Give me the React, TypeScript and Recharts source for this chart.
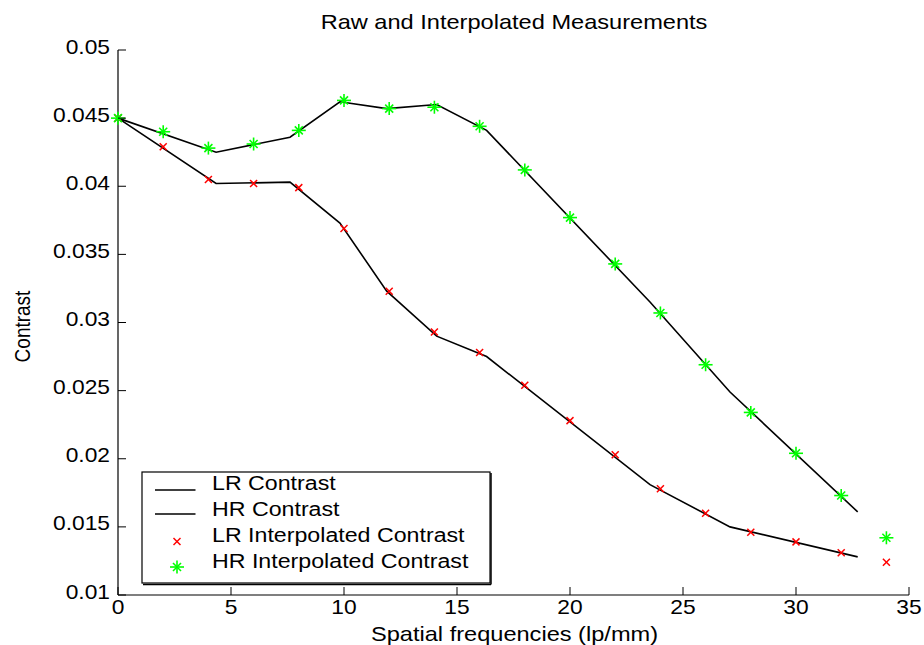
import React from 'react';
import { ScatterChart, Scatter, XAxis, YAxis, Legend } from 'recharts';

const FONT = '"Liberation Sans", Arial, Helvetica, sans-serif';

// Tick values
const xTicks = [0, 5, 10, 15, 20, 25, 30, 35];
const yTicks = [0.01, 0.015, 0.02, 0.025, 0.03, 0.035, 0.04, 0.045, 0.05];

// Raw measurements (line vertices)
const rawFreq = [0, 4.34, 7.61, 9.82, 11.89, 14.1, 16.31, 23.54, 27.08, 32.73];
const lrRaw = [0.045, 0.0402, 0.0403, 0.0373, 0.0323, 0.029, 0.0275, 0.0181, 0.015, 0.0128];
const hrRaw = [0.045, 0.0425, 0.0436, 0.0462, 0.0457, 0.046, 0.0441, 0.0315, 0.0249, 0.0161];

// Interpolated measurements (markers)
const interpFreq = [0, 2, 4, 6, 8, 10, 12, 14, 16, 18, 20, 22, 24, 26, 28, 30, 32, 34];
const lrInterp = [0.045, 0.0429, 0.0405, 0.0402, 0.0399, 0.0369, 0.0323, 0.0293, 0.0278, 0.0254, 0.0228, 0.0203, 0.0178, 0.016, 0.0146, 0.0139, 0.0131, 0.0124];
const hrInterp = [0.045, 0.044, 0.0428, 0.0431, 0.0441, 0.0463, 0.0457, 0.0458, 0.0444, 0.0412, 0.0377, 0.0343, 0.0307, 0.0269, 0.0234, 0.0204, 0.0173, 0.0142];

const seriesNames = ['LR Contrast', 'HR Contrast', 'LR Interpolated Contrast', 'HR Interpolated Contrast'];

const toPoints = (xs: number[], ys: number[]) => xs.map((x, i) => ({ x, y: ys[i] }));

const lrRawPts = toPoints(rawFreq, lrRaw);
const hrRawPts = toPoints(rawFreq, hrRaw);
const lrInterpPts = toPoints(interpFreq, lrInterp);
const hrInterpPts = toPoints(interpFreq, hrInterp);

const RED = '#ff0000';
const GREEN = '#00ff00';

const XMark = ({ cx, cy }: any) => {
  const r = 3.5;
  return (
    <g>
      <line x1={cx - r} y1={cy - r} x2={cx + r} y2={cy + r} stroke={RED} strokeWidth={1.5} />
      <line x1={cx - r} y1={cy + r} x2={cx + r} y2={cy - r} stroke={RED} strokeWidth={1.5} />
    </g>
  );
};

const StarMark = ({ cx, cy }: any) => {
  const h = 7;
  const v = 6.5;
  const d = 4;
  return (
    <g>
      <line x1={cx - h} y1={cy} x2={cx + h} y2={cy} stroke={GREEN} strokeWidth={1.6} />
      <line x1={cx} y1={cy - v} x2={cx} y2={cy + v} stroke={GREEN} strokeWidth={1.6} />
      <line x1={cx - d} y1={cy - d} x2={cx + d} y2={cy + d} stroke={GREEN} strokeWidth={1.6} />
      <line x1={cx - d} y1={cy + d} x2={cx + d} y2={cy - d} stroke={GREEN} strokeWidth={1.6} />
    </g>
  );
};

const NoMark = () => <g />;

const YTick = (props: any) => {
  const { x, y, payload } = props;
  return (
    <g>
      <line x1={x} y1={y} x2={x + 8} y2={y} stroke="#000" strokeWidth={1} />
      <text
        transform={`translate(${x - 8},${y + 3.5}) scale(1.14,1)`}
        textAnchor="end"
        fontFamily={FONT}
        fontSize={20}
        fill="#000"
      >
        {String(payload.value)}
      </text>
    </g>
  );
};

const XTick = (props: any) => {
  const { x, y, payload } = props;
  return (
    <g>
      <line x1={x} y1={y} x2={x} y2={y - 8} stroke="#000" strokeWidth={1} />
      <text
        transform={`translate(${x},${y + 19}) scale(1.14,1)`}
        textAnchor="middle"
        fontFamily={FONT}
        fontSize={20}
        fill="#000"
      >
        {String(payload.value)}
      </text>
    </g>
  );
};

const XLabel = (props: any) => {
  const vb = props.viewBox || { x: 118, y: 595, width: 791, height: 30 };
  return (
    <text
      transform={`translate(${vb.x + vb.width / 2 + 1},${vb.y + 46}) scale(1.18,1)`}
      textAnchor="middle"
      fontFamily={FONT}
      fontSize={20}
      fill="#000"
    >
      Spatial frequencies (lp/mm)
    </text>
  );
};

const YLabel = (props: any) => {
  const vb = props.viewBox || { x: 58, y: 50, width: 60, height: 545 };
  return (
    <text
      transform={`translate(${vb.x - 28},${vb.y + vb.height / 2 + 4}) rotate(-90) scale(1,1.15)`}
      textAnchor="middle"
      fontFamily={FONT}
      fontSize={19}
      fill="#000"
    >
      Contrast
    </text>
  );
};

const LegendBox = () => {
  const rowText = [20, 46, 71.5, 97.5];
  return (
    <svg width={354} height={117} style={{ display: 'block', overflow: 'visible' }}>
      <rect x={2} y={2} width={348} height={111} fill="#fff" stroke="#000" strokeWidth={1.2} />
      <line x1={351} y1={3} x2={351} y2={114.5} stroke="#000" strokeWidth={1.5} />
      <line x1={3} y1={114.5} x2={351} y2={114.5} stroke="#000" strokeWidth={1.5} />
      <line x1={15} y1={20} x2={55.5} y2={20} stroke="#000" strokeWidth={1.5} />
      <line x1={15} y1={44} x2={55.5} y2={44} stroke="#000" strokeWidth={1.5} />
      <XMark cx={37} cy={71.5} />
      <StarMark cx={37} cy={97} />
      {seriesNames.map((n, i) => (
        <text
          key={n}
          transform={`translate(72,${rowText[i]}) scale(1.16,1)`}
          fontFamily={FONT}
          fontSize={20}
          fill="#000"
        >
          {n}
        </text>
      ))}
    </svg>
  );
};

export default function App() {
  return (
    <div style={{ position: 'absolute', left: 0, top: 0, width: 924, height: 645, background: '#fff' }}>
      <ScatterChart width={924} height={645} margin={{ top: 50, right: 15, bottom: 20, left: 58 }}>
        <XAxis
          type="number"
          dataKey="x"
          domain={[0, 35]}
          ticks={xTicks}
          interval={0}
          height={30}
          tickSize={0}
          tickMargin={0}
          tickLine={false}
          tick={<XTick />}
          axisLine={{ stroke: '#000', strokeWidth: 1.2 }}
          label={<XLabel />}
        />
        <YAxis
          type="number"
          dataKey="y"
          domain={[0.01, 0.05]}
          ticks={yTicks}
          interval={0}
          width={60}
          tickSize={0}
          tickMargin={0}
          tickLine={false}
          tick={<YTick />}
          axisLine={{ stroke: '#000', strokeWidth: 1.2 }}
          label={<YLabel />}
        />
        <Legend
          layout="horizontal"
          verticalAlign="middle"
          align="center"
          content={<LegendBox />}
          wrapperStyle={{ left: 140, top: 470, width: 354, height: 117, right: 'auto', bottom: 'auto' }}
        />
        <Scatter
          name={seriesNames[0]}
          data={lrRawPts}
          line={{ stroke: '#000', strokeWidth: 1.6 }}
          lineJointType="linear"
          shape={<NoMark />}
          isAnimationActive={false}
        />
        <Scatter
          name={seriesNames[1]}
          data={hrRawPts}
          line={{ stroke: '#000', strokeWidth: 1.6 }}
          lineJointType="linear"
          shape={<NoMark />}
          isAnimationActive={false}
        />
        <Scatter
          name={seriesNames[2]}
          data={lrInterpPts}
          shape={<XMark />}
          isAnimationActive={false}
        />
        <Scatter
          name={seriesNames[3]}
          data={hrInterpPts}
          shape={<StarMark />}
          isAnimationActive={false}
        />
        <text
          transform="translate(514,29) scale(1.18,1)"
          textAnchor="middle"
          fontFamily={FONT}
          fontSize={20}
          fill="#000"
        >
          Raw and Interpolated Measurements
        </text>
      </ScatterChart>
    </div>
  );
}
